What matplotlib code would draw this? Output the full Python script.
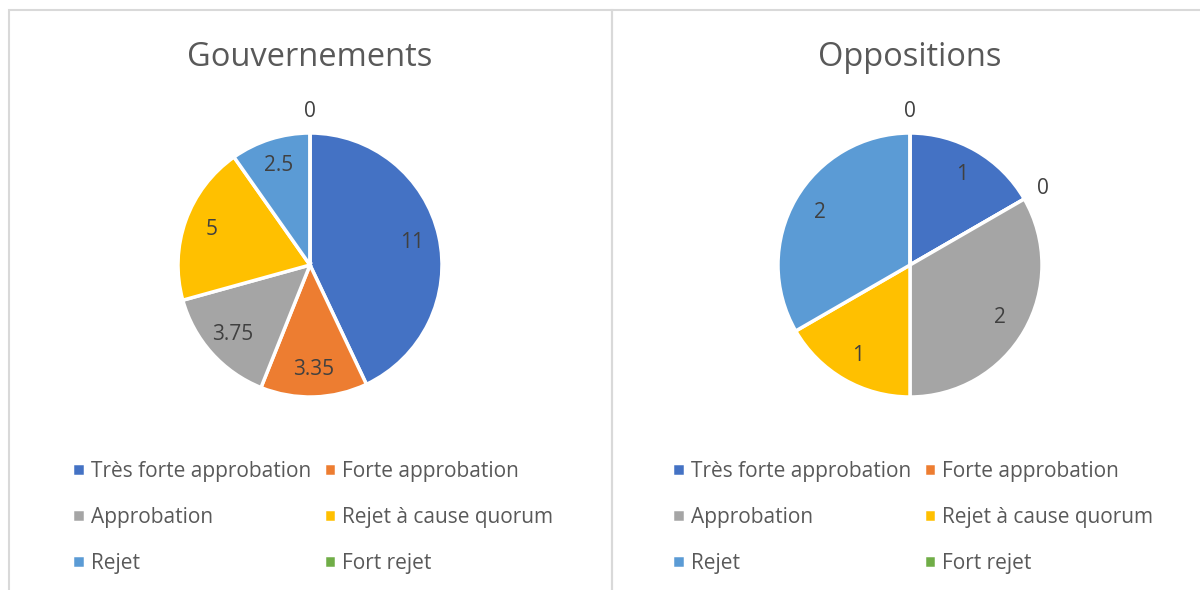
import matplotlib.pyplot as plt
from matplotlib.patches import Rectangle
import numpy as np

plt.rcParams['font.family'] = ['Open Sans', 'DejaVu Sans']

categories = ['Très forte approbation', 'Forte approbation', 'Approbation',
              'Rejet à cause quorum', 'Rejet', 'Fort rejet']
gouv_values = [11, 3.35, 3.75, 5, 2.5, 0]
oppo_values = [1, 0, 2, 1, 2, 0]
colors = ['#4472C4', '#ED7D31', '#A5A5A5', '#FFC000', '#5B9BD5', '#70AD47']

W, H = 1200, 590
fig = plt.figure(figsize=(12, 5.9), dpi=100)

# panel borders
border = '#D9D9D9'
fig.add_artist(Rectangle((9 / W, -0.1), 603 / W, 1.1 - 10 / H, transform=fig.transFigure,
                         fill=False, edgecolor=border, lw=1.5))
fig.add_artist(Rectangle((612 / W, -0.1), 0.5, 1.1 - 10 / H, transform=fig.transFigure,
                         fill=False, edgecolor=border, lw=1.5))


def fmt(v):
    return ('%g' % v)


def draw(cx, title, values, legend_x):
    R = 132
    ax = fig.add_axes([(cx - 1.5 * R) / W, (H - 265 - 1.5 * R) / H, 3 * R / W, 3 * R / H])
    wedges, _ = ax.pie(values, colors=colors, startangle=90, counterclock=False,
                       wedgeprops=dict(edgecolor='white', linewidth=2.5))
    ax.set_xlim(-1.5, 1.5)
    ax.set_ylim(-1.5, 1.5)
    for w, v in zip(wedges, values):
        ang = np.deg2rad((w.theta1 + w.theta2) / 2)
        d = 0.79 if v > 0 else 1.16
        ax.text(d * np.cos(ang), d * np.sin(ang), fmt(v), ha='center', va='center',
                fontsize=15, color='#404040')
    fig.text(cx / W, 1 - 57 / H, title, ha='center', va='center', fontsize=23.5, color='#595959')
    # row-major order like the reference (legend fills columns first)
    order = [0, 2, 4, 1, 3, 5]
    fig.legend([wedges[i] for i in order], [categories[i] for i in order], ncol=2,
               loc='upper left', bbox_to_anchor=(legend_x / W, 1 - 461 / H), frameon=False,
               handlelength=0.6, handleheight=0.6, handletextpad=0.3,
               columnspacing=0.6, labelspacing=1.2, fontsize=15,
               labelcolor='#595959', borderpad=0, borderaxespad=0)


draw(310, 'Gouvernements', gouv_values, 72)
draw(910, 'Oppositions', oppo_values, 672)

fig.savefig('out.png', dpi=100)
